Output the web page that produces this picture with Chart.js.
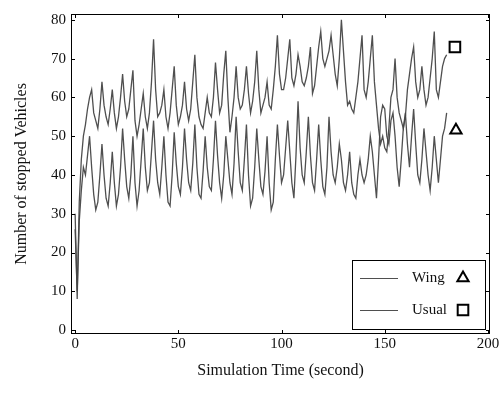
<!DOCTYPE html>
<html>
<head>
<meta charset="utf-8">
<script src="https://cdn.jsdelivr.net/npm/chart.js@4.4.1/dist/chart.umd.min.js"></script>
<style>
    html, body { margin: 0; padding: 0; background: #fff; }
    #wrap { width: 502px; height: 394px; position: relative; }
</style>
</head>
<body>
<div id="wrap"><canvas id="chart"></canvas></div>
<script>
// one sample per second, t = 0 .. 180
const usualCounts = [
    30, 8, 33, 44, 50,   53, 57, 60, 62, 56,   54, 52, 57, 64, 58,   55, 53, 57, 62, 56,
    52, 55, 60, 66, 59,  55, 57, 62, 67, 54,   50, 53, 57, 61, 55,   52, 56, 64, 75, 62,
    55, 56, 58, 62, 55,  52, 56, 62, 68, 58,   53, 55, 58, 64, 57,   54, 57, 64, 71, 60,
    55, 53, 52, 56, 60,  56, 55, 60, 69, 62,   56, 58, 66, 72, 60,   51, 55, 60, 68, 60,
    57, 58, 62, 68, 61,  56, 59, 64, 72, 62,   56, 58, 60, 64, 58,   57, 62, 68, 76, 66,
    62, 62, 65, 70, 75,  65, 63, 66, 71, 68,   64, 63, 65, 68, 73,   61, 63, 68, 73, 77,
    70, 68, 70, 72, 76,  71, 66, 63, 70, 80,   72, 64, 58, 59, 57,   56, 60, 64, 70, 76,
    62, 60, 64, 70, 76,  64, 58, 52, 48, 50,   47, 46, 52, 60, 62,   70, 60, 56, 54, 52,
    55, 62, 66, 70, 73,  64, 60, 62, 68, 62,   58, 60, 65, 70, 77,   62, 60, 64, 68, 70,
    71
];
const wingCounts = [
    26, 10, 28, 36, 42,  40, 45, 50, 42, 35,   31, 33, 40, 48, 40,   34, 32, 38, 46, 38,
    32, 35, 42, 52, 44,  37, 34, 40, 50, 38,   32, 36, 44, 52, 42,   36, 38, 46, 54, 44,
    38, 35, 42, 50, 40,  33, 32, 40, 51, 43,   37, 35, 42, 52, 44,   38, 36, 43, 53, 42,
    35, 34, 41, 50, 42,  37, 36, 44, 54, 45,   38, 34, 40, 50, 44,   38, 35, 43, 55, 46,
    38, 36, 44, 53, 40,  32, 34, 42, 52, 44,   37, 35, 41, 50, 38,   31, 33, 44, 53, 45,
    38, 40, 47, 54, 46,  38, 34, 45, 59, 47,   40, 38, 46, 55, 45,   38, 36, 44, 53, 44,
    37, 35, 42, 55, 46,  40, 38, 42, 48, 44,   38, 36, 40, 46, 38,   35, 34, 40, 44, 40,
    38, 40, 44, 50, 46,  40, 34, 44, 55, 58,   57, 50, 48, 54, 56,   50, 42, 37, 44, 52,
    56, 48, 42, 50, 57,  48, 40, 38, 44, 52,   46, 40, 36, 42, 50,   44, 38, 44, 50, 52,
    56
];
const seconds = usualCounts.map((_, i) => i);

const xTicks = [0, 50, 100, 150, 200];
const yTicks = [0, 10, 20, 30, 40, 50, 60, 70, 80];

// end-of-curve markers (time, value)
const wingMarker = [{ x: 184.5, y: 51.5 }];
const usualMarker = [{ x: 184, y: 73 }];

const legendItems = [
    { label: "Wing", pointStyle: "triangle", radius: 6.5 },
    { label: "Usual", pointStyle: "rect", radius: 7.5 },
];

const lineColor = "rgba(70, 70, 70, 0.95)";
const serif = "'Liberation Serif', 'DejaVu Serif', serif";

const toPoints = (values) => values.map((v, i) => ({ x: seconds[i], y: v }));

const framePlugin = {
    id: "frame",
    afterDatasetsDraw(chart) {
        const { ctx, chartArea: a, scales } = chart;
        ctx.save();
        ctx.strokeStyle = "#000";
        ctx.lineWidth = 1;
        ctx.strokeRect(a.left + 0.5, a.top + 0.5, a.width - 1, a.height - 1);
        ctx.beginPath();
        xTicks.forEach((v) => {
            const px = Math.round(scales.x.getPixelForValue(v)) + 0.5;
            ctx.moveTo(px, a.bottom);
            ctx.lineTo(px, a.bottom - 4);
            ctx.moveTo(px, a.top);
            ctx.lineTo(px, a.top + 4);
        });
        yTicks.forEach((v) => {
            const py = Math.round(scales.y.getPixelForValue(v)) + 0.5;
            ctx.moveTo(a.left, py);
            ctx.lineTo(a.left + 4, py);
            ctx.moveTo(a.right, py);
            ctx.lineTo(a.right - 4, py);
        });
        ctx.stroke();
        ctx.restore();
    },
};

const boxLegendPlugin = {
    id: "boxLegend",
    afterDraw(chart) {
        const { ctx, chartArea: a } = chart;
        const w = 133, h = 69;
        const left = a.right - 5 - w;
        const top = a.bottom - 5 - h;
        ctx.save();
        ctx.fillStyle = "#fff";
        ctx.fillRect(left, top, w, h);
        ctx.strokeStyle = "#000";
        ctx.lineWidth = 1;
        ctx.strokeRect(Math.round(left) + 0.5, Math.round(top) + 0.5, w, h);
        legendItems.forEach((item, i) => {
            const cy = top + 18 + i * 32;
            ctx.strokeStyle = lineColor;
            ctx.lineWidth = 1;
            ctx.beginPath();
            ctx.moveTo(left + 8, cy + 0.5);
            ctx.lineTo(left + 46, cy + 0.5);
            ctx.stroke();
            ctx.fillStyle = "#111";
            ctx.font = "15px " + serif;
            ctx.textBaseline = "middle";
            ctx.textAlign = "left";
            ctx.fillText(item.label, left + 60, cy);
            ctx.fillStyle = "#fff";
            ctx.strokeStyle = "#000";
            ctx.lineWidth = 2;
            Chart.helpers.drawPoint(ctx, {
                pointStyle: item.pointStyle,
                radius: item.radius,
                rotation: 0,
                borderWidth: 2,
            }, left + 111, cy);
        });
        ctx.restore();
    },
};

new Chart(document.getElementById("chart"), {
    type: "line",
    data: {
        datasets: [
            {
                label: "Usual",
                data: toPoints(usualCounts),
                borderColor: lineColor,
                borderWidth: 1.3,
                pointRadius: 0,
                tension: 0,
            },
            {
                label: "Wing",
                data: toPoints(wingCounts),
                borderColor: lineColor,
                borderWidth: 1.3,
                pointRadius: 0,
                tension: 0,
            },
            {
                label: "Wing marker",
                data: wingMarker,
                showLine: false,
                pointStyle: "triangle",
                pointRadius: 6.5,
                pointBorderWidth: 2,
                pointBorderColor: "#000",
                pointBackgroundColor: "#fff",
            },
            {
                label: "Usual marker",
                data: usualMarker,
                showLine: false,
                pointStyle: "rect",
                pointRadius: 7.5,
                pointBorderWidth: 2,
                pointBorderColor: "#000",
                pointBackgroundColor: "#fff",
            },
        ],
    },
    options: {
        responsive: true,
        maintainAspectRatio: false,
        animation: false,
        layout: { padding: { top: 8, right: 12, left: 0, bottom: 0 } },
        plugins: {
            legend: { display: false },
            tooltip: { enabled: false },
        },
        scales: {
            x: {
                type: "linear",
                min: -2,
                max: 201,
                grid: { display: false, drawTicks: false },
                border: { display: false },
                afterBuildTicks: (s) => { s.ticks = xTicks.map((v) => ({ value: v })); },
                afterFit: (s) => { s.height = 60; },
                ticks: {
                    color: "#111",
                    padding: 1,
                    maxRotation: 0,
                    autoSkip: false,
                    font: { family: serif, size: 15 },
                },
                title: {
                    display: true,
                    text: "Simulation Time (second)",
                    color: "#111",
                    padding: { top: 0, bottom: 14 },
                    font: { family: serif, size: 16 },
                },
            },
            y: {
                type: "linear",
                min: -1,
                max: 81.5,
                grid: { display: false, drawTicks: false },
                border: { display: false },
                afterBuildTicks: (s) => { s.ticks = yTicks.map((v) => ({ value: v })); },
                afterFit: (s) => { s.width = 71; },
                ticks: {
                    color: "#111",
                    padding: 5,
                    autoSkip: false,
                    font: { family: serif, size: 15 },
                },
                title: {
                    display: true,
                    text: "Number of stopped Vehicles",
                    color: "#111",
                    padding: { top: 12, bottom: 0 },
                    font: { family: serif, size: 16 },
                },
            },
        },
    },
    plugins: [framePlugin, boxLegendPlugin],
});
</script>
</body>
</html>
